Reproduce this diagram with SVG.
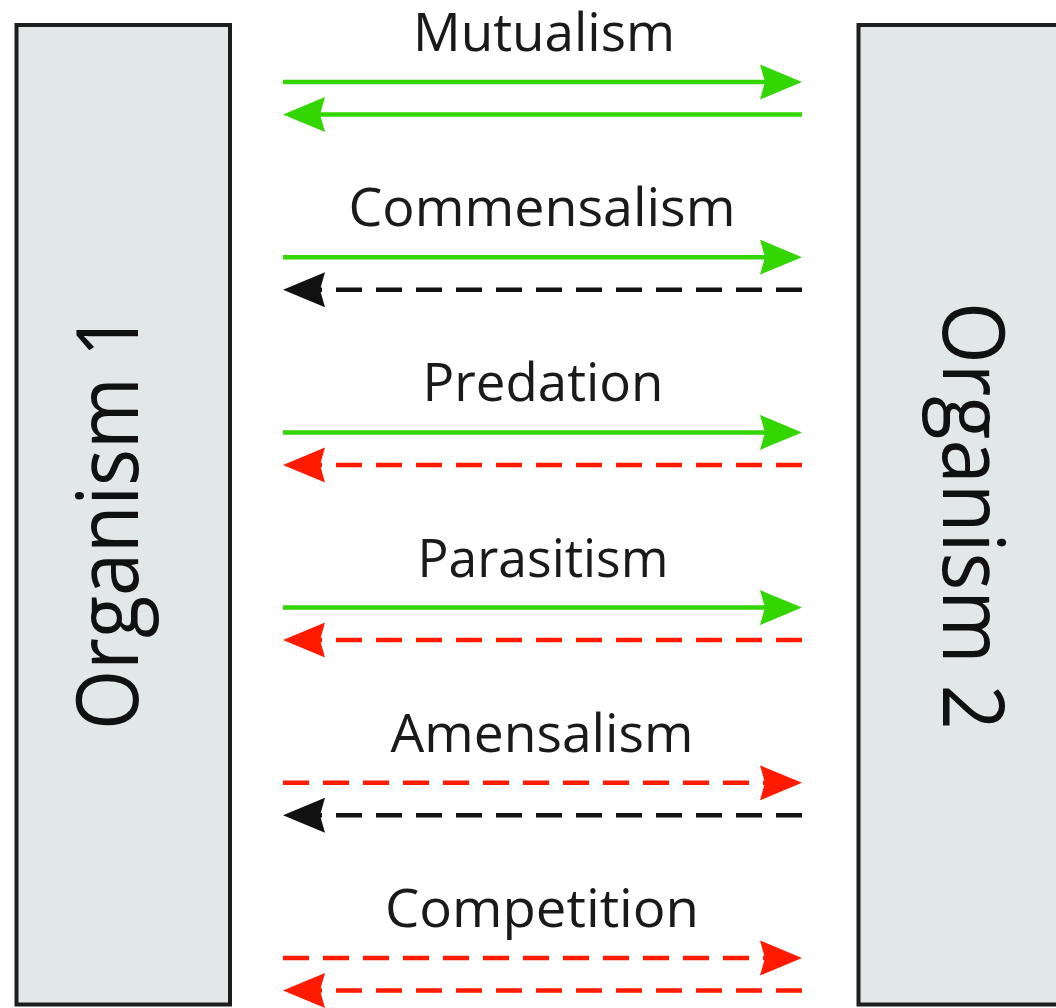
<svg xmlns="http://www.w3.org/2000/svg" width="1056" height="1008" viewBox="0 0 1056 1008">
<style>
.box{fill:#e2e7e7;stroke:#1e1e1e;stroke-width:4}
.org{font-family:"Open Sans","Noto Sans",sans-serif;font-size:86px;fill:#111;text-anchor:middle}
.lbl{font-family:"Open Sans","Noto Sans",sans-serif;font-size:53px;fill:#1a1a1a;text-anchor:middle}
.a{fill:none;stroke-width:4.5}
.g{stroke:#33d600}
.r{stroke:#ff1a00}
.k{stroke:#111}
.d{stroke-dasharray:26 14}
</style>
<defs>
<marker id="hg" markerUnits="userSpaceOnUse" markerWidth="44" markerHeight="36" refX="15" refY="17.5" orient="auto" overflow="visible"><path d="M0,0 L42,17.5 L0,35 L5,17.5 z" fill="#33d600"/></marker>
<marker id="hr" markerUnits="userSpaceOnUse" markerWidth="44" markerHeight="36" refX="15" refY="17.5" orient="auto" overflow="visible"><path d="M0,0 L42,17.5 L0,35 L5,17.5 z" fill="#ff1a00"/></marker>
<marker id="hk" markerUnits="userSpaceOnUse" markerWidth="44" markerHeight="36" refX="15" refY="17.5" orient="auto" overflow="visible"><path d="M0,0 L42,17.5 L0,35 L5,17.5 z" fill="#111"/></marker>
</defs>
<rect width="1056" height="1008" fill="#fff"/>
<g id="organism1">
<rect class="box" x="16.5" y="25" width="213.5" height="979.5"/>
<text class="org" transform="translate(138,521.5) rotate(-90)" textLength="417" lengthAdjust="spacingAndGlyphs">Organism 1</text>
</g>
<g id="organism2">
<rect class="box" x="858.5" y="25" width="213.5" height="979.5"/>
<text class="org" transform="translate(943,516) rotate(90)" textLength="428" lengthAdjust="spacingAndGlyphs">Organism 2</text>
</g>
<g id="labels">
<text class="lbl" x="544" y="51" textLength="262" lengthAdjust="spacingAndGlyphs">Mutualism</text>
<text class="lbl" x="542" y="226.2" textLength="387" lengthAdjust="spacingAndGlyphs">Commensalism</text>
<text class="lbl" x="543" y="401.4" textLength="241" lengthAdjust="spacingAndGlyphs">Predation</text>
<text class="lbl" x="543" y="576.6" textLength="251" lengthAdjust="spacingAndGlyphs">Parasitism</text>
<text class="lbl" x="542" y="751.8" textLength="303" lengthAdjust="spacingAndGlyphs">Amensalism</text>
<text class="lbl" x="542" y="927" textLength="314" lengthAdjust="spacingAndGlyphs">Competition</text>
</g>
<g id="connectors">
<path class="a g" d="M283,82 H775" marker-end="url(#hg)"/>
<path class="a g" d="M802,114.5 H310" marker-end="url(#hg)"/>
<path class="a g" d="M283,257.2 H775" marker-end="url(#hg)"/>
<path class="a k d" d="M802,289.7 H310" marker-end="url(#hk)"/>
<path class="a g" d="M283,432.4 H775" marker-end="url(#hg)"/>
<path class="a r d" d="M802,464.9 H310" marker-end="url(#hr)"/>
<path class="a g" d="M283,607.6 H775" marker-end="url(#hg)"/>
<path class="a r d" d="M802,640.1 H310" marker-end="url(#hr)"/>
<path class="a r d" d="M283,782.8 H775" marker-end="url(#hr)"/>
<path class="a k d" d="M802,815.3 H310" marker-end="url(#hk)"/>
<path class="a r d" d="M283,958 H775" marker-end="url(#hr)"/>
<path class="a r d" d="M802,990.5 H310" marker-end="url(#hr)"/>
</g>
</svg>
